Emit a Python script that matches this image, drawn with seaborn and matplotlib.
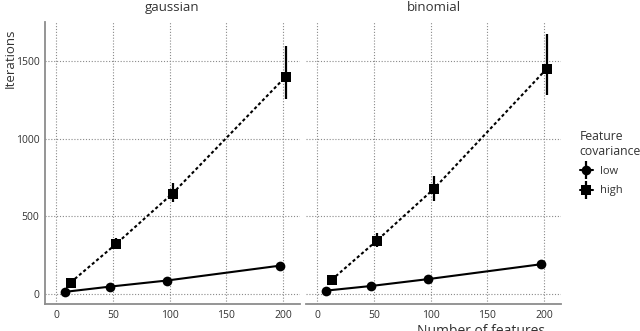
import numpy as np
import pandas as pd
import matplotlib
matplotlib.use("Agg")
import matplotlib.pyplot as plt
from matplotlib.lines import Line2D
import seaborn as sns

# ==========================================
# Data
# ==========================================

features = [10, 50, 100, 200]
families = ["gaussian", "binomial"]
covariances = ["low", "high"]

gauss_low = [13, 47, 86, 182]
gauss_low_lo = [11, 43, 80, 172]
gauss_low_hi = [15, 51, 92, 192]
gauss_high = [73, 320, 646, 1399]
gauss_high_lo = [62, 290, 592, 1256]
gauss_high_hi = [85, 357, 713, 1597]

binom_low = [21, 51, 95, 191]
binom_low_lo = [18, 47, 89, 181]
binom_low_hi = [24, 55, 101, 201]
binom_high = [90, 343, 674, 1450]
binom_high_lo = [78, 301, 601, 1281]
binom_high_hi = [102, 395, 760, 1672]

# ==========================================
# Long table
# ==========================================

series = {
    ("gaussian", "low"): (gauss_low, gauss_low_lo, gauss_low_hi),
    ("gaussian", "high"): (gauss_high, gauss_high_lo, gauss_high_hi),
    ("binomial", "low"): (binom_low, binom_low_lo, binom_low_hi),
    ("binomial", "high"): (binom_high, binom_high_lo, binom_high_hi),
}

dodge = {"low": -2.5, "high": 2.5}

rows = []
for (fam, cov), (mean, lo, hi) in series.items():
    for f, m, l, h in zip(features, mean, lo, hi):
        rows.append({"family": fam, "covariance": cov, "features": f,
                     "x": f + dodge[cov], "iterations": m, "lo": l, "hi": h})
df = pd.DataFrame(rows)

# ==========================================
# Plot
# ==========================================

sns.set_theme(style="white")
plt.rcParams["font.family"] = ["Open Sans", "DejaVu Sans"]

fig = plt.figure(figsize=(6.4, 3.31), dpi=100)
W, H = 640, 331
ax_l = fig.add_axes([45 / W, 1 - 304 / H, 255 / W, 282 / H])
ax_r = fig.add_axes([306 / W, 1 - 304 / H, 255 / W, 282 / H], sharey=ax_l)

markers = {"low": "o", "high": "s"}
dashes = {"low": "", "high": (1.5, 1.2)}
grey = "#8c8c8c"
text_col = "#333333"

for ax, fam in zip([ax_l, ax_r], families):
    sub = df[df["family"] == fam]
    sns.lineplot(data=sub, x="x", y="iterations", style="covariance",
                 style_order=covariances, markers=markers, dashes=dashes,
                 color="black", linewidth=1.5, markersize=7,
                 markeredgewidth=0, legend=False, ax=ax, zorder=3)
    ax.vlines(sub["x"], sub["lo"], sub["hi"], color="black", linewidth=1.6, zorder=3)

    ax.set_xlim(-10, 215)
    ax.set_ylim(-65, 1750)
    ax.set_xticks([0, 50, 100, 150, 200])
    ax.set_yticks([0, 500, 1000, 1500])
    ax.grid(True, linestyle=(0, (1, 1.6)), color="#8a8a8a", linewidth=0.8)
    ax.set_axisbelow(True)
    ax.tick_params(length=0, labelsize=7.5, colors=text_col, pad=4)
    ax.set_title(fam, fontsize=9.5, color=text_col, pad=8)
    ax.set_xlabel("")
    ax.set_ylabel("")
    for s in ["top", "right"]:
        ax.spines[s].set_visible(False)
    ax.spines["bottom"].set_color(grey)
    ax.spines["bottom"].set_linewidth(1.3)
    ax.spines["left"].set_color(grey)
    ax.spines["left"].set_linewidth(1.3)

ax_r.spines["left"].set_visible(False)
ax_r.tick_params(labelleft=False)

ax_l.set_ylabel("Iterations", fontsize=9.5, color=text_col)
ax_l.yaxis.set_label_coords(-0.112, 0.87)
ax_r.set_xlabel("Number of features", fontsize=10, color=text_col)
ax_r.xaxis.set_label_coords(0.686, -0.07)

handles = []
for cov in covariances:
    line = Line2D([], [], color="black", marker=markers[cov], linestyle="-",
                  linewidth=1.5, markersize=7, markeredgewidth=0)
    bar = Line2D([], [], color="black", marker="|", linestyle="",
                 markersize=13, markeredgewidth=1.6)
    handles.append((line, bar))

leg = fig.legend(handles, covariances, title="Feature\ncovariance",
                 loc="upper left", bbox_to_anchor=(572 / W, 1 - 122 / H),
                 frameon=False, fontsize=8, title_fontsize=8.8,
                 handlelength=1.2, handletextpad=0.6, labelspacing=0.75,
                 borderpad=0.2)
leg._legend_box.align = "left"
for t in leg.get_texts():
    t.set_color(text_col)
leg.get_title().set_color(text_col)

fig.savefig("out.png", dpi=100)
